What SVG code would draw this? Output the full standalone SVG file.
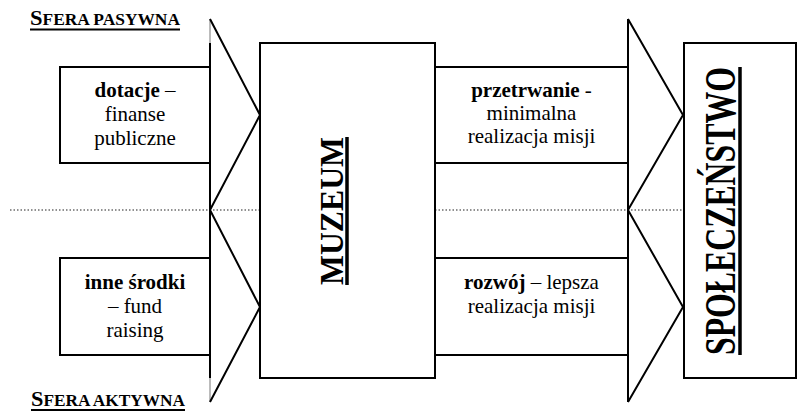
<svg xmlns="http://www.w3.org/2000/svg" width="798" height="412" viewBox="0 0 798 412">
<style>
.box{fill:none;stroke:#000;stroke-width:2}
.ln{fill:none;stroke:#000;stroke-width:2;stroke-linejoin:miter}
.thin{fill:none;stroke:#777;stroke-width:1}
.dot{fill:none;stroke:#222;stroke-width:1.2;stroke-dasharray:1.5 2}
.ul{stroke:#000;stroke-width:2}
.ulb{stroke:#000;stroke-width:3.5}
</style>
<rect width="798" height="412" fill="#fff"/>

<g id="connectors">
  <line class="dot" x1="10" y1="210" x2="260" y2="210"/>
  <line class="dot" x1="435" y1="210" x2="684" y2="210"/>
  <g id="arrow-in">
    <line class="thin" x1="210" y1="19" x2="210" y2="43"/>
    <line class="ln" x1="210" y1="43" x2="210" y2="378"/>
    <line class="thin" x1="210" y1="378" x2="210" y2="402"/>
    <polyline class="ln" points="210,19 260,115 210,210 260,307 210,402"/>
  </g>
  <g id="arrow-out">
    <line class="ln" x1="628" y1="19" x2="628" y2="402"/>
    <polyline class="ln" points="628,19 683,115 628,210 683,307 628,402"/>
  </g>
</g>

<g id="sfera-pasywna">
  <text font-family="Liberation Serif" font-weight="bold" x="30" y="25" textLength="150" lengthAdjust="spacingAndGlyphs"><tspan font-size="22">S</tspan><tspan font-size="17">FERA PASYWNA</tspan></text>
  <line class="ul" x1="30" y1="29.5" x2="180" y2="29.5"/>
</g>

<g id="dotacje">
  <polyline class="box" points="210,67 60,67 60,163 210,163"/>
  <text font-family="Liberation Serif" font-size="21" text-anchor="middle" x="135" y="97"><tspan font-weight="bold">dotacje</tspan> –</text>
  <text font-family="Liberation Serif" font-size="21" text-anchor="middle" x="135" y="121">finanse</text>
  <text font-family="Liberation Serif" font-size="21" text-anchor="middle" x="135" y="145">publiczne</text>
</g>

<g id="inne-srodki">
  <polyline class="box" points="210,258 60,258 60,355 210,355"/>
  <text font-family="Liberation Serif" font-size="21" text-anchor="middle" font-weight="bold" x="135" y="289">inne środki</text>
  <text font-family="Liberation Serif" font-size="21" text-anchor="middle" x="135" y="313">– fund</text>
  <text font-family="Liberation Serif" font-size="21" text-anchor="middle" x="135" y="337">raising</text>
</g>

<g id="muzeum">
  <rect class="box" x="260" y="43" width="175" height="335"/>
  <text font-family="Liberation Serif" font-weight="bold" font-size="34" text-anchor="middle" transform="translate(343,211) rotate(-90)" x="0" y="0" textLength="148" lengthAdjust="spacingAndGlyphs">MUZEUM</text>
  <line class="ulb" x1="347" y1="137" x2="347" y2="285"/>
</g>

<g id="przetrwanie">
  <line class="box" x1="435" y1="67" x2="628" y2="67"/>
  <line class="box" x1="435" y1="163" x2="628" y2="163"/>
  <text font-family="Liberation Serif" font-size="21" text-anchor="middle" x="531.5" y="97"><tspan font-weight="bold">przetrwanie</tspan> -</text>
  <text font-family="Liberation Serif" font-size="21" text-anchor="middle" x="531.5" y="120">minimalna</text>
  <text font-family="Liberation Serif" font-size="21" text-anchor="middle" x="531.5" y="143">realizacja misji</text>
</g>

<g id="rozwoj">
  <line class="box" x1="435" y1="258" x2="628" y2="258"/>
  <line class="box" x1="435" y1="355" x2="628" y2="355"/>
  <text font-family="Liberation Serif" font-size="21" text-anchor="middle" x="531.5" y="289"><tspan font-weight="bold">rozwój</tspan> – lepsza</text>
  <text font-family="Liberation Serif" font-size="21" text-anchor="middle" x="531.5" y="313">realizacja misji</text>
</g>

<g id="spoleczenstwo">
  <rect class="box" x="684" y="43" width="112" height="335"/>
  <text font-family="Liberation Serif" font-weight="bold" font-size="44" text-anchor="middle" transform="translate(735,211) rotate(-90)" x="0" y="0" textLength="288" lengthAdjust="spacingAndGlyphs">SPOŁECZEŃSTWO</text>
  <line class="ulb" x1="740" y1="67" x2="740" y2="355"/>
</g>

<g id="sfera-aktywna">
  <text font-family="Liberation Serif" font-weight="bold" x="31" y="406" textLength="154" lengthAdjust="spacingAndGlyphs"><tspan font-size="22">S</tspan><tspan font-size="17">FERA AKTYWNA</tspan></text>
  <line class="ul" x1="31" y1="410" x2="185" y2="410"/>
</g>
</svg>
